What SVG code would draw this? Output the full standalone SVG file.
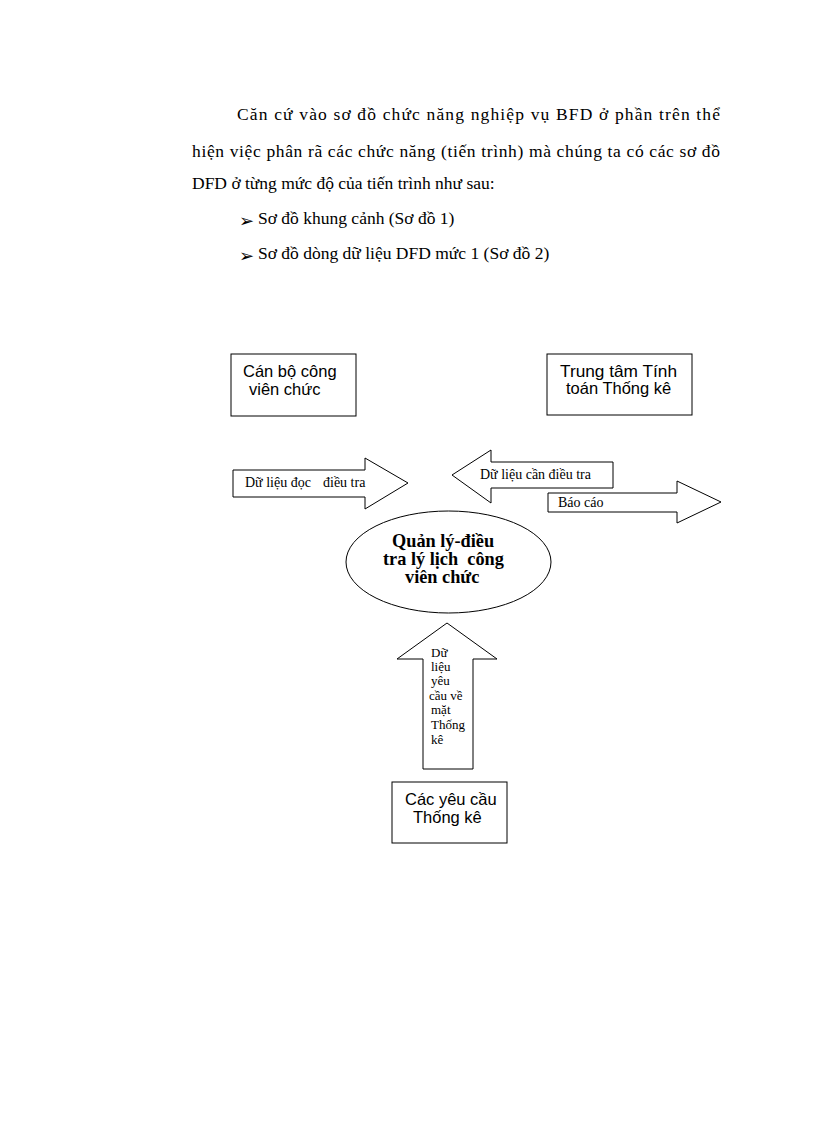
<svg xmlns="http://www.w3.org/2000/svg" width="816" height="1123" viewBox="0 0 816 1123">
<style>
.p{font-family:"Liberation Serif","Times New Roman",serif;font-size:17.5px;fill:#000}
.b{font-family:"DejaVu Sans",sans-serif;font-size:18px;fill:#000}
.box{fill:#fff;stroke:#000;stroke-width:1}
.bt{font-family:"Liberation Sans",Arial,sans-serif;font-size:16.5px;fill:#000}
.at{font-family:"Liberation Serif","Times New Roman",serif;font-size:14px;fill:#000}
.vt{font-family:"Liberation Serif","Times New Roman",serif;font-size:13px;fill:#000}
.et{font-family:"Liberation Serif","Times New Roman",serif;font-size:18.3px;font-weight:bold;fill:#000}
</style>
<rect width="816" height="1123" fill="#fff"/>
<g id="intro">
<text class="p" x="237" y="120" textLength="483" lengthAdjust="spacing">Căn cứ vào sơ đồ chức năng nghiệp vụ BFD ở phần trên thể</text>
<text class="p" x="192" y="157" textLength="528" lengthAdjust="spacing">hiện việc phân rã các chức năng (tiến trình) mà chúng ta có các sơ đồ</text>
<text class="p" x="192" y="189">DFD ở từng mức độ của tiến trình như sau:</text>
<text class="b" x="239" y="227">➢</text>
<text class="p" x="258" y="224">Sơ đồ khung cảnh (Sơ đồ 1)</text>
<text class="b" x="239" y="262">➢</text>
<text class="p" x="258" y="259">Sơ đồ dòng dữ liệu DFD mức 1 (Sơ đồ 2)</text>
</g>
<g id="connectors">
<g id="flow-du-lieu-doc-dieu-tra">
<polygon class="box" points="233,470 365,470 365,458 408,483 365,509 365,497 233,497"/>
<text class="at" x="245" y="487">Dữ liệu đọc<tspan x="323">điều tra</tspan></text>
</g>
<g id="flow-du-lieu-can-dieu-tra">
<polygon class="box" points="613,462 491,462 491,450 452,475 491,503 491,488 613,488"/>
<text class="at" x="480" y="479">Dữ liệu cần điều tra</text>
</g>
<g id="flow-bao-cao">
<polygon class="box" points="548,493 677,493 677,481 721,502 677,523 677,512 548,512"/>
<text class="at" x="558" y="507">Báo cáo</text>
</g>
<g id="flow-du-lieu-yeu-cau">
<polygon class="box" points="447,623 497,659 473,659 473,769 423,769 423,659 397,659"/>
<text class="vt" x="431" y="657">Dữ</text>
<text class="vt" x="431" y="671">liệu</text>
<text class="vt" x="431" y="685">yêu</text>
<text class="vt" x="429" y="700">cầu về</text>
<text class="vt" x="431" y="714">mặt</text>
<text class="vt" x="431" y="729">Thống</text>
<text class="vt" x="431" y="744">kê</text>
</g>
</g>
<g id="node-can-bo">
<rect class="box" x="231" y="354" width="125" height="62"/>
<text class="bt" x="243" y="377">Cán bộ công</text>
<text class="bt" x="249" y="395">viên chức</text>
</g>
<g id="node-trung-tam">
<rect class="box" x="547" y="354" width="145" height="61"/>
<text class="bt" x="560" y="377" textLength="117" lengthAdjust="spacingAndGlyphs">Trung tâm Tính</text>
<text class="bt" x="566" y="394">toán Thống kê</text>
</g>
<g id="node-process">
<ellipse class="box" cx="448.5" cy="562" rx="102.5" ry="51"/>
<text class="et" x="392" y="547">Quản lý-điều</text>
<text class="et" x="383" y="565" xml:space="preserve">tra lý lịch  công</text>
<text class="et" x="405" y="583">viên chức</text>
</g>
<g id="node-cac-yeu-cau">
<rect class="box" x="392" y="782" width="115" height="61"/>
<text class="bt" x="405" y="805">Các yêu cầu</text>
<text class="bt" x="413" y="823">Thống kê</text>
</g>
</svg>
